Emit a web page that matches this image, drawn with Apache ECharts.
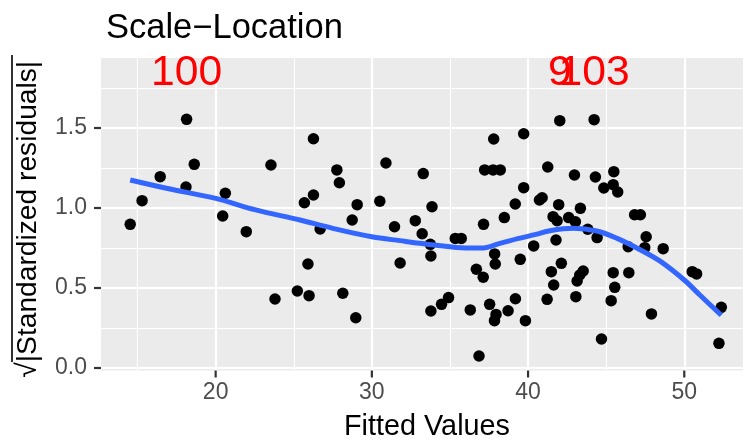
<!DOCTYPE html>
<html>
<head>
<meta charset="utf-8">
<script src="https://cdn.jsdelivr.net/npm/echarts@6/dist/echarts.min.js"></script>
<style>html,body{margin:0;padding:0;background:#fff}#c{width:743px;height:442px}</style>
</head>
<body>
<div id="c"></div>
<script>
// Fitted values (x) and sqrt(|standardized residuals|) (y)
const fittedX = [14.53,15.29,16.45,18.10,18.14,18.63,20.45,20.62,21.96,23.54,23.80,25.23,25.68,25.91,25.98,26.26,26.26,26.69,27.76,27.92,
  28.14,28.74,28.97,29.06,30.51,30.90,31.45,31.81,32.78,33.22,33.29,33.74,33.78,33.78,33.85,34.46,34.91,35.34,35.72,36.30,
  36.69,36.86,37.13,37.15,37.22,37.54,37.76,37.80,37.85,37.86,37.90,37.95,38.22,38.48,38.72,39.18,39.19,39.50,39.72,39.72,
  39.83,40.36,40.73,40.90,41.22,41.26,41.49,41.60,41.64,41.79,41.86,41.96,42.03,42.13,42.60,42.97,43.03,43.06,43.14,43.31,
  43.35,43.53,43.82,44.23,44.31,44.42,44.70,44.85,45.32,45.45,45.45,45.49,45.55,45.74,46.41,46.45,46.82,47.19,47.47,47.56,
  47.90,48.65,50.51,50.79,52.22,52.37];
const residY = [0.898,1.046,1.196,1.131,1.554,1.273,0.950,1.092,0.852,1.269,0.431,0.481,1.033,0.650,0.452,1.081,1.433,0.869,1.238,1.158,
  0.467,0.925,0.314,1.021,1.042,1.281,0.883,0.656,0.921,0.839,1.215,0.773,0.700,0.356,1.008,0.398,0.440,0.810,0.810,0.363,
  0.617,0.075,0.567,0.898,1.238,0.398,1.238,1.431,0.296,0.713,0.650,0.335,1.238,0.940,0.358,1.025,0.433,0.679,1.464,1.127,
  0.296,0.763,1.050,1.064,0.429,1.256,0.602,0.946,0.519,0.800,0.920,1.021,1.546,0.654,0.940,1.206,0.914,0.446,0.544,0.581,
  0.998,0.606,0.867,1.552,1.194,0.815,0.181,1.125,0.421,1.146,0.596,1.227,0.504,1.100,0.758,0.596,0.958,0.958,0.752,0.820,
  0.338,0.746,0.602,0.588,0.154,0.379];
// Loess smoother
const smoothX = [14.53,17,20,22.5,25.4,27.5,30,31.8,34,36,37,38.2,39.4,40.5,41.4,42.9,44.4,45.7,47.2,48.5,50,51,52.37];
const smoothY = [1.175,1.12,1.06,0.99,0.925,0.873,0.82,0.796,0.769,0.75,0.75,0.779,0.81,0.835,0.858,0.873,0.856,0.81,0.738,0.665,0.55,0.456,0.33];
// Labelled observations
const labelX = [18.14, 42.03, 44.23];
const labelText = ['100', '9', '103'];
// Tick labels
const xMajor = [20, 30, 40, 50];
const xMinor = [15, 25, 35, 45];
const yMajor = [0, 0.5, 1.0, 1.5];
const yMinor = [0.25, 0.75, 1.25, 1.75];

const XMIN = 12.66, XMAX = 53.76, YMIN = -0.0156, YMAX = 1.9375, LABEL_Y = 1.842;
const FONT = 'Liberation Sans';
const TICK_LEN = 7;

const chart = echarts.init(document.getElementById('c'), null, {renderer: 'canvas'});
const baseAxis = (min, max) => ({type: 'value', min, max, gridIndex: 0, axisLine: {show: false}});
const tickStyle = {stroke: '#333333', lineWidth: 2.2};
chart.setOption({
  animation: false,
  backgroundColor: '#ffffff',
  title: {text: 'Scale\u2212Location', left: 101, top: 6,
    textStyle: {fontFamily: FONT, fontSize: 34.5, fontWeight: 'normal', color: '#000'}},
  grid: {left: 101, top: 58, right: 0, bottom: 71.5, show: true, backgroundColor: '#EBEBEB', borderWidth: 0,
    containLabel: false, outerBoundsMode: 'none'},
  graphic: [
    {type: 'line', shape: {x1: 12, y1: 362, x2: 12, y2: 55}, style: {stroke: '#000', lineWidth: 1.6}, z: 10}
  ],
  xAxis: [
    Object.assign(baseAxis(XMIN, XMAX), {
      axisTick: {show: false, customValues: xMajor},
      axisLabel: {customValues: xMajor, margin: 11, fontFamily: FONT, fontSize: 23, color: '#4D4D4D'},
      splitLine: {show: true, lineStyle: {color: '#ffffff', width: 2.2}},
      name: 'Fitted Values', nameLocation: 'middle', nameGap: 42,
      nameTextStyle: {fontFamily: FONT, fontSize: 28.8, color: '#000', padding: [0, 0, 0, 10]}
    }),
    Object.assign(baseAxis(XMIN, XMAX), {
      axisTick: {show: false, customValues: xMinor},
      axisLabel: {show: false, customValues: xMinor},
      splitLine: {show: true, lineStyle: {color: '#ffffff', width: 1.1}}
    })
  ],
  yAxis: [
    Object.assign(baseAxis(YMIN, YMAX), {
      axisTick: {show: false, customValues: yMajor},
      axisLabel: {customValues: yMajor, margin: 14, fontFamily: FONT, fontSize: 23, color: '#4D4D4D',
        formatter: v => v.toFixed(1)},
      splitLine: {show: true, lineStyle: {color: '#ffffff', width: 2.2}},
      name: '\u221A|Standardized residuals|', nameLocation: 'middle', nameGap: 59,
      nameTextStyle: {fontFamily: FONT, fontSize: 28.2, color: '#000', padding: [0, 10, 0, 0]}
    }),
    Object.assign(baseAxis(YMIN, YMAX), {
      axisTick: {show: false, customValues: yMinor},
      axisLabel: {show: false, customValues: yMinor},
      splitLine: {show: true, lineStyle: {color: '#ffffff', width: 1.1}}
    })
  ],
  series: [
    {type: 'scatter', xAxisIndex: 0, yAxisIndex: 0, symbol: 'circle', symbolSize: 11.5,
      itemStyle: {color: '#000000', opacity: 1}, data: fittedX.map((x, i) => [x, residY[i]]), z: 3, silent: true},
    {type: 'line', xAxisIndex: 0, yAxisIndex: 0, smooth: 0.35, showSymbol: false, symbol: 'none',
      lineStyle: {color: '#3366FF', width: 5, cap: 'butt', opacity: 1}, data: smoothX.map((x, i) => [x, smoothY[i]]), z: 4, silent: true},
    {type: 'scatter', xAxisIndex: 0, yAxisIndex: 0, symbolSize: 0, z: 5, silent: true,
      itemStyle: {opacity: 1},
      data: labelX.map((x, i) => ({value: [x, LABEL_Y], name: labelText[i]})),
      label: {show: true, position: 'inside', formatter: p => p.name, fontFamily: FONT, fontSize: 42.6, color: '#FF0000', opacity: 1}},
    // axis tick marks drawn through the axis scales
    {type: 'custom', xAxisIndex: 0, yAxisIndex: 0, clip: false, silent: true, z: 6,
      data: xMajor.map(v => [v, YMIN]),
      renderItem: (params, api) => {
        const p = api.coord([api.value(0), api.value(1)]);
        return {type: 'line', shape: {x1: p[0], y1: p[1], x2: p[0], y2: p[1] + TICK_LEN}, style: tickStyle};
      }},
    {type: 'custom', xAxisIndex: 0, yAxisIndex: 0, clip: false, silent: true, z: 6,
      data: yMajor.map(v => [XMIN, v]),
      renderItem: (params, api) => {
        const p = api.coord([api.value(0), api.value(1)]);
        return {type: 'line', shape: {x1: p[0] - TICK_LEN, y1: p[1], x2: p[0], y2: p[1]}, style: tickStyle};
      }}
  ]
});
</script>
</body>
</html>
